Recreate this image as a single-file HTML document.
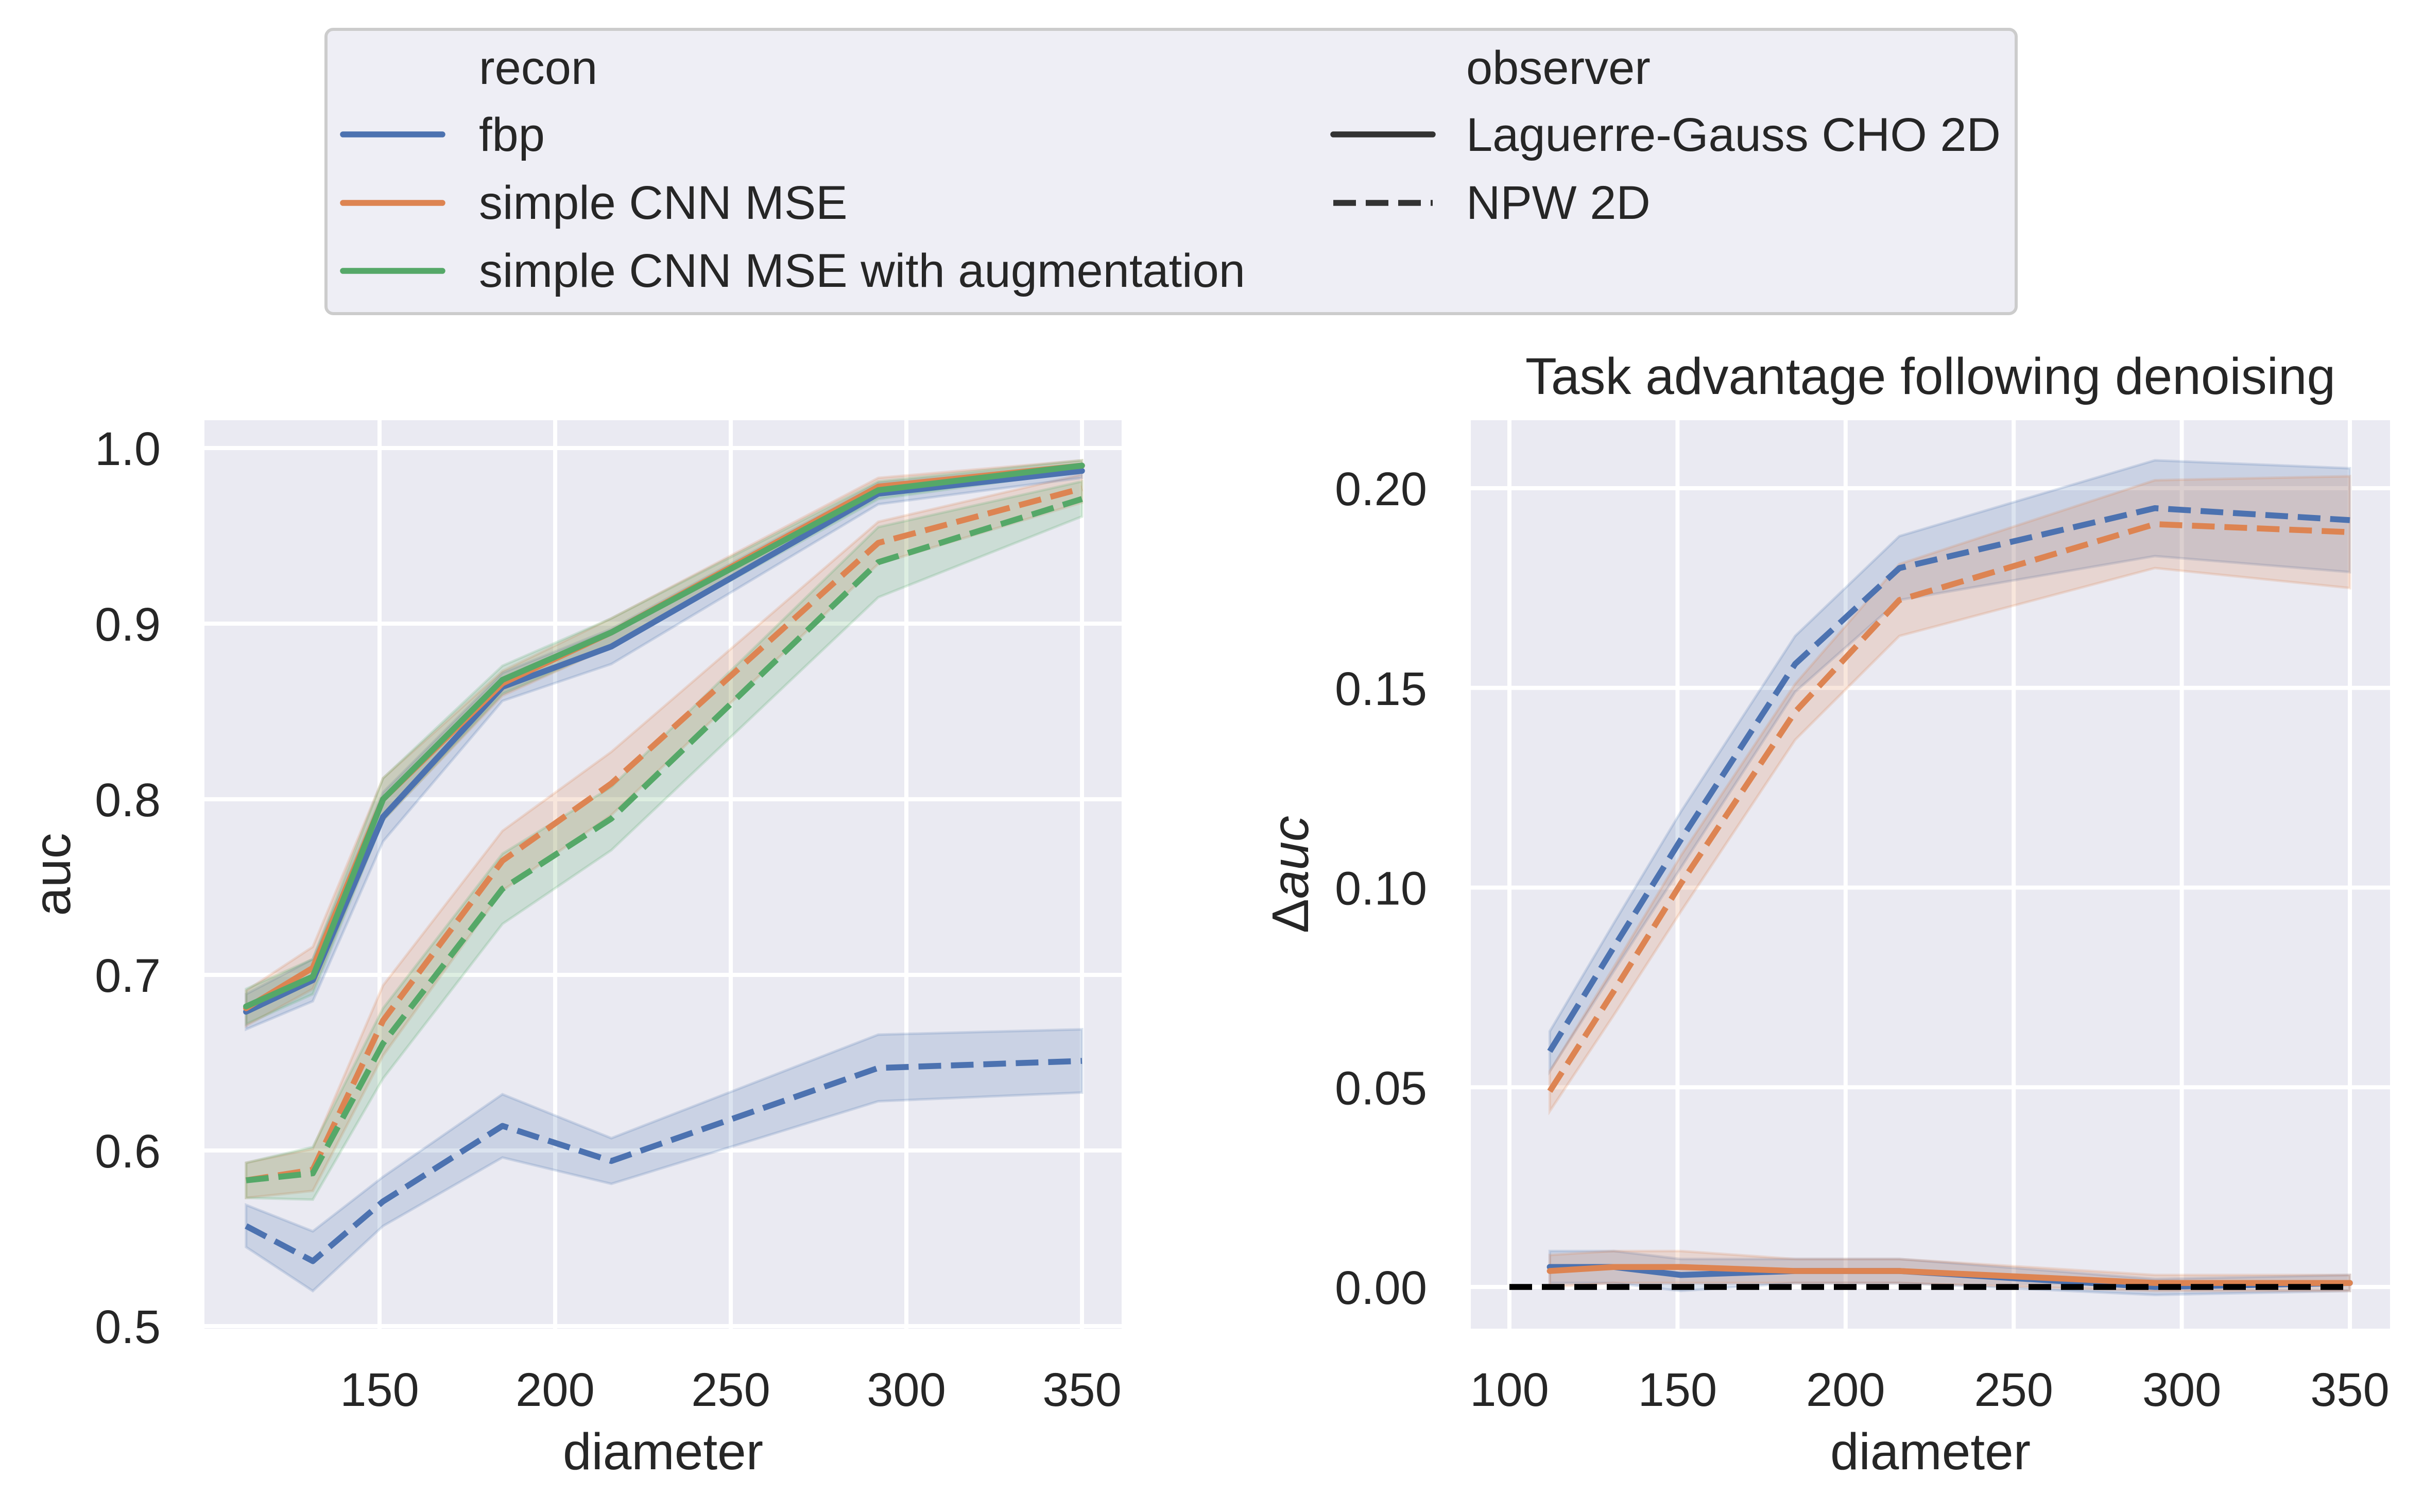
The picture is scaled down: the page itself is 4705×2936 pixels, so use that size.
<!DOCTYPE html>
<html><head><meta charset="utf-8">
<style>
html,body{margin:0;padding:0;background:#fff;}
svg{display:block;font-family:"Liberation Sans",Arial,sans-serif;}
</style></head>
<body>
<svg id="fig" width="4705" height="2936" viewBox="0 0 4705 2936" xmlns="http://www.w3.org/2000/svg">
<rect x="0" y="0" width="4705" height="2936" fill="#ffffff"/>
<g id="left"></g>
<g id="right"></g>
<g id="legend">
  <rect x="633" y="57" width="3282" height="552" rx="14" fill="#eeeef5" stroke="#cccccc" stroke-width="6"/>
  <text x="930" y="163" font-size="92" fill="#262626">recon</text>
  <line x1="666" y1="261" x2="859" y2="261" stroke="#4c72b0" stroke-width="11.5" stroke-linecap="round"/>
  <text x="930" y="293" font-size="92" fill="#262626">fbp</text>
  <line x1="666" y1="394" x2="859" y2="394" stroke="#dd8452" stroke-width="11.5" stroke-linecap="round"/>
  <text x="930" y="425" font-size="92" fill="#262626">simple CNN MSE</text>
  <line x1="666" y1="526" x2="859" y2="526" stroke="#55a868" stroke-width="11.5" stroke-linecap="round"/>
  <text x="930" y="557" font-size="92" fill="#262626">simple CNN MSE with augmentation</text>
  <text x="2847" y="163" font-size="92" fill="#262626">observer</text>
  <line x1="2589" y1="261" x2="2782" y2="261" stroke="#333333" stroke-width="11.5" stroke-linecap="round"/>
  <text x="2847" y="293" font-size="92" fill="#262626">Laguerre-Gauss CHO 2D</text>
  <line x1="2589" y1="394" x2="2782" y2="394" stroke="#333333" stroke-width="11.5" stroke-dasharray="44,19"/>
  <text x="2847" y="425" font-size="92" fill="#262626">NPW 2D</text>
</g>
</svg>
<script>
// ---- data ----
const diameters = [112, 131, 151, 185, 216, 292, 350];
// left panel: auc
const aucFbpLG   = [0.679, 0.697, 0.790, 0.864, 0.887, 0.974, 0.987];
const aucCnnLG   = [0.681, 0.704, 0.800, 0.866, 0.895, 0.978, 0.990];
const aucAugLG   = [0.682, 0.699, 0.800, 0.868, 0.895, 0.976, 0.990];
const aucFbpNPW  = [0.557, 0.537, 0.571, 0.614, 0.594, 0.647, 0.651];
const aucCnnNPW  = [0.583, 0.589, 0.674, 0.765, 0.809, 0.946, 0.977];
const aucAugNPW  = [0.583, 0.587, 0.661, 0.749, 0.789, 0.935, 0.971];
const ciFbpLG    = [0.010, 0.012, 0.014, 0.008, 0.010, 0.006, 0.004];
const ciCnnLG    = [0.010, 0.012, 0.012, 0.007, 0.008, 0.005, 0.003];
const ciAugLG    = [0.010, 0.010, 0.012, 0.008, 0.008, 0.005, 0.003];
const ciFbpNPW   = [0.012, 0.017, 0.014, 0.018, 0.013, 0.019, 0.018];
const ciCnnNPW   = [0.010, 0.012, 0.020, 0.017, 0.018, 0.012, 0.008];
const ciAugNPW   = [0.010, 0.015, 0.020, 0.020, 0.018, 0.020, 0.010];
// right panel: delta auc
const dFbpLG     = [0.005, 0.005, 0.003, 0.004, 0.004, 0.000, 0.001];
const dCnnLG     = [0.004, 0.005, 0.005, 0.004, 0.004, 0.001, 0.001];
const dFbpNPW    = [0.059, 0.085, 0.112, 0.156, 0.180, 0.195, 0.192];
const dCnnNPW    = [0.049, 0.074, 0.101, 0.144, 0.172, 0.191, 0.189];
const ciDFbpLG   = [0.004, 0.004, 0.004, 0.003, 0.003, 0.002, 0.002];
const ciDCnnLG   = [0.004, 0.004, 0.004, 0.003, 0.003, 0.002, 0.002];
const ciDFbpNPW  = [0.005, 0.006, 0.007, 0.007, 0.008, 0.012, 0.013];
const ciDCnnNPW  = [0.005, 0.006, 0.007, 0.007, 0.009, 0.011, 0.014];
const leftXTicks = [150, 200, 250, 300, 350];
const leftYTicks = [0.5, 0.6, 0.7, 0.8, 0.9, 1.0];
const leftYLabels = ["0.5","0.6","0.7","0.8","0.9","1.0"];
const rightXTicks = [100, 150, 200, 250, 300, 350];
const rightYTicks = [0.00, 0.05, 0.10, 0.15, 0.20];
const rightYLabels = ["0.00","0.05","0.10","0.15","0.20"];

const NS = "http://www.w3.org/2000/svg";
const BLUE = "#4c72b0", ORANGE = "#dd8452", GREEN = "#55a868";
function mk(tag, attrs, parent) {
  const e = document.createElementNS(NS, tag);
  for (const k in attrs) e.setAttribute(k, attrs[k]);
  parent.appendChild(e);
  return e;
}
function linScale(d0, d1, r0, r1) { return v => r0 + (v - d0) * (r1 - r0) / (d1 - d0); }

function drawPanel(g, box, xs, ys, xTicks, yTicks, yLabels, series, opts) {
  const bg = mk("rect", {x: box.l, y: box.t, width: box.r - box.l, height: box.b - box.t, fill: "#eaeaf2"}, g);
  
  
  const clipId = "clip" + opts.id;
  const cp = mk("clipPath", {id: clipId}, g);
  mk("rect", {x: box.l, y: box.t, width: box.r - box.l, height: box.b - box.t}, cp);
  xTicks.forEach(t => {
    const gl = mk("line", {x1: xs(t), x2: xs(t), y1: box.t, y2: box.b, stroke: "#ffffff", "stroke-width": 8}, g);
    
    
    const tl = mk("text", {x: xs(t), y: box.b + 150, "font-size": 92, fill: "#262626", "text-anchor": "middle"}, g);
    tl.textContent = String(t);
    
    
  });
  yTicks.forEach((t, i) => {
    const gl = mk("line", {x1: box.l, x2: box.r, y1: ys(t), y2: ys(t), stroke: "#ffffff", "stroke-width": 8}, g);
    
    
    const tl = mk("text", {x: box.l - 85, y: ys(t) + 33, "font-size": 92, fill: "#262626", "text-anchor": "end"}, g);
    tl.textContent = yLabels[i];
    
    
  });
  const data = mk("g", {"clip-path": "url(#" + clipId + ")"}, g);
  
  
  series.forEach(s => {
    let up = s.v.map((v, i) => xs(diameters[i]) + "," + ys(v + s.ci[i]));
    let lo = s.v.map((v, i) => xs(diameters[i]) + "," + ys(v - s.ci[i])).reverse();
    const band = mk("polygon", {points: up.concat(lo).join(" "), fill: s.c, "fill-opacity": 0.2, stroke: s.c, "stroke-opacity": 0.2, "stroke-width": 5}, data);
    
    
  });
  series.forEach(s => {
    const pts = s.v.map((v, i) => xs(diameters[i]) + "," + ys(v)).join(" ");
    const attrs = {points: pts, fill: "none", stroke: s.c, "stroke-width": 11.5, "stroke-linejoin": "round", "stroke-linecap": s.dash ? "butt" : "round"};
    if (s.dash) attrs["stroke-dasharray"] = "44,19";
    const ln = mk("polyline", attrs, data);
    
    
  });
  if (opts.after) opts.after(data);
  const xl = mk("text", {x: (box.l + box.r) / 2, y: 2853, "font-size": 100, fill: "#262626", "text-anchor": "middle"}, g);
  xl.textContent = "diameter";
  
  
}

// left panel
const LB = {l: 397, r: 2178, t: 816, b: 2580};
const lx = linScale(150, 350, 737, 2101);
const ly = linScale(0.5, 1.0, 2575, 870);
drawPanel(document.getElementById("left"), LB, lx, ly, leftXTicks, leftYTicks, leftYLabels, [
  {name: "fbp-npw", v: aucFbpNPW, ci: ciFbpNPW, c: BLUE, dash: true},
  {name: "cnn-npw", v: aucCnnNPW, ci: ciCnnNPW, c: ORANGE, dash: true},
  {name: "aug-npw", v: aucAugNPW, ci: ciAugNPW, c: GREEN, dash: true},
  {name: "fbp-lg", v: aucFbpLG, ci: ciFbpLG, c: BLUE, dash: false},
  {name: "cnn-lg", v: aucCnnLG, ci: ciCnnLG, c: ORANGE, dash: false},
  {name: "aug-lg", v: aucAugLG, ci: ciAugLG, c: GREEN, dash: false}
], {id: "L"});
const yl = mk("text", {x: 0, y: 0, "font-size": 100, fill: "#262626", "text-anchor": "middle", transform: "translate(136,1698) rotate(-90)"}, document.getElementById("left"));
yl.textContent = "auc";



// right panel
const RB = {l: 2856, r: 4641, t: 816, b: 2580};
const rx = linScale(100, 350, 2931, 4563);
const ry = linScale(0, 0.2, 2499, 948);
const rightG = document.getElementById("right");
drawPanel(rightG, RB, rx, ry, rightXTicks, rightYTicks, rightYLabels, [
  {name: "fbp-npw-delta", v: dFbpNPW, ci: ciDFbpNPW, c: BLUE, dash: true},
  {name: "cnn-npw-delta", v: dCnnNPW, ci: ciDCnnNPW, c: ORANGE, dash: true},
  {name: "fbp-lg-delta", v: dFbpLG, ci: ciDFbpLG, c: BLUE, dash: false},
  {name: "cnn-lg-delta", v: dCnnLG, ci: ciDCnnLG, c: ORANGE, dash: false}
], {id: "R", after: (g) => {
  const z = mk("line", {x1: rx(100), x2: rx(350), y1: ry(0), y2: ry(0), stroke: "#000000", "stroke-width": 11.5, "stroke-dasharray": "44,19"}, g);
  
  
}});
const ryl = mk("text", {x: 0, y: 0, "font-size": 100, fill: "#262626", "text-anchor": "middle", transform: "translate(2540,1698) rotate(-90)"}, rightG);


const t1 = mk("tspan", {}, ryl); t1.textContent = "Δ";
const t2 = mk("tspan", {"font-style": "italic"}, ryl); t2.textContent = "auc";
const ttl = mk("text", {x: (RB.l + RB.r) / 2, y: 765, "font-size": 100, fill: "#262626", "text-anchor": "middle"}, rightG);
ttl.textContent = "Task advantage following denoising";


</script>
</body></html>
